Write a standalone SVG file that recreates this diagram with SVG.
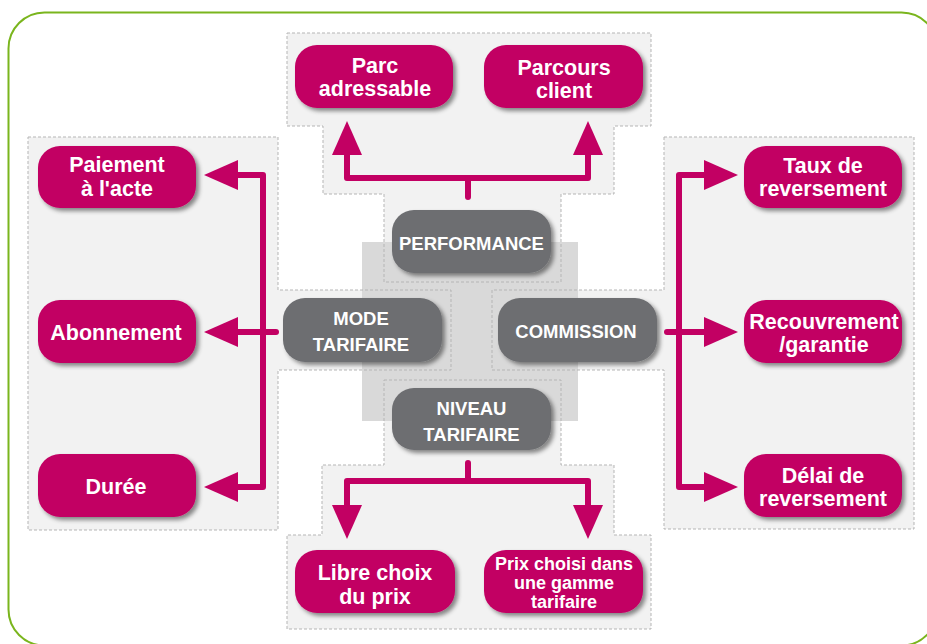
<svg xmlns="http://www.w3.org/2000/svg" width="927" height="644" viewBox="0 0 927 644">
<defs>
<style>
.region{fill:#f2f2f2;stroke:none}
.outline{fill:none;stroke:#b5b5b5;stroke-width:1;stroke-dasharray:3 2}
.pink rect{fill:#c20063;filter:url(#sh)}
.grey rect{fill:#6d6e71;filter:url(#sh)}
.pink text{font-family:"Liberation Sans",Arial,sans-serif;font-weight:bold;font-size:21.5px;fill:#fff;text-anchor:middle}
.grey text{font-family:"Liberation Sans",Arial,sans-serif;font-weight:bold;font-size:18.5px;fill:#fff;text-anchor:middle}
.pink text.small{font-size:18px}
#connectors path{fill:none;stroke:#c20063;stroke-width:6;stroke-linejoin:round;stroke-linecap:round}
#connectors path.arr{marker-end:url(#ah)}
</style>
<filter id="sh" x="-10%" y="-15%" width="125%" height="140%">
<feDropShadow dx="3" dy="3" stdDeviation="2.2" flood-color="#000" flood-opacity="0.45"/>
</filter>
<marker id="ah" markerUnits="userSpaceOnUse" markerWidth="34" markerHeight="30" viewBox="0 0 34 30" refX="0" refY="15" orient="auto">
<path d="M0,0 L34,15 L0,30 Z" fill="#c20063"/>
</marker>
</defs>
<rect x="8.5" y="12.5" width="929" height="633" rx="36" fill="#fff" stroke="#7ab51d" stroke-width="2"/>
<g id="regions">
<path class="region" d="M287,33 H651 V126 H614 V194 H561 V282 H384 V194 H323 V126 H287 Z"/>
<path class="region" d="M28,137 H278 V290 H451 V370 H278 V530 H28 Z"/>
<path class="region" d="M664,137 H914 V529 H664 V370 H492 V290 H664 Z"/>
<path class="region" d="M384,380 H561 V465 H614 V535 H651 V629 H287 V535 H322 V465 H384 Z"/>
<rect x="362" y="242" width="216" height="179" fill="#d9d9d9"/>
<path class="outline" d="M287,33 H651 V126 H614 V194 H561 V282 H384 V194 H323 V126 H287 Z"/>
<path class="outline" d="M28,137 H278 V290 H451 V370 H278 V530 H28 Z"/>
<path class="outline" d="M664,137 H914 V529 H664 V370 H492 V290 H664 Z"/>
<path class="outline" d="M384,380 H561 V465 H614 V535 H651 V629 H287 V535 H322 V465 H384 Z"/>
</g>
<g id="connectors">
<path d="M468,197 V178"/>
<path class="arr" d="M468,178 H347 V155"/>
<path class="arr" d="M468,178 H588 V155"/>
<path class="arr" d="M263,332 V175 H238"/>
<path class="arr" d="M263,332 V487 H238"/>
<path class="arr" d="M276,332 H238"/>
<path class="arr" d="M679,332 V175 H704"/>
<path class="arr" d="M679,332 V487 H704"/>
<path class="arr" d="M667,332 H704"/>
<path d="M468,463 V481"/>
<path class="arr" d="M468,481 H347 V505"/>
<path class="arr" d="M468,481 H588 V505"/>
</g>
<g id="performance" class="grey"><rect x="392" y="210" width="159" height="63" rx="22"/><text x="471.5" y="250">PERFORMANCE</text></g>
<g id="mode-tarifaire" class="grey"><rect x="283" y="298" width="159" height="64" rx="22"/><text x="361" y="325">MODE</text><text x="361" y="351">TARIFAIRE</text></g>
<g id="commission" class="grey"><rect x="498" y="298" width="159" height="64" rx="22"/><text x="576" y="338">COMMISSION</text></g>
<g id="niveau-tarifaire" class="grey"><rect x="392" y="388" width="159" height="62" rx="22"/><text x="471.5" y="415">NIVEAU</text><text x="471.5" y="441">TARIFAIRE</text></g>
<g id="parc-adressable" class="pink"><rect x="295" y="45" width="158" height="63" rx="22"/><text x="375" y="73">Parc</text><text x="375" y="96">adressable</text></g>
<g id="parcours-client" class="pink"><rect x="484" y="45" width="159" height="63" rx="22"/><text x="564" y="75">Parcours</text><text x="564" y="98">client</text></g>
<g id="paiement-acte" class="pink"><rect x="38" y="146" width="158" height="62" rx="22"/><text x="117" y="172">Paiement</text><text x="117" y="196">à l'acte</text></g>
<g id="abonnement" class="pink"><rect x="38" y="300" width="158" height="63" rx="22"/><text x="116" y="340">Abonnement</text></g>
<g id="duree" class="pink"><rect x="38" y="454" width="158" height="63" rx="22"/><text x="116" y="494">Durée</text></g>
<g id="taux-reversement" class="pink"><rect x="744" y="146" width="158" height="62" rx="22"/><text x="823" y="173">Taux de</text><text x="823" y="196">reversement</text></g>
<g id="recouvrement" class="pink"><rect x="744" y="300" width="158" height="63" rx="22"/><text x="824" y="329">Recouvrement</text><text x="824" y="352">/garantie</text></g>
<g id="delai-reversement" class="pink"><rect x="744" y="454" width="158" height="63" rx="22"/><text x="823" y="483">Délai de</text><text x="823" y="506">reversement</text></g>
<g id="libre-choix" class="pink"><rect x="295" y="550" width="160" height="63" rx="22"/><text x="375" y="580">Libre choix</text><text x="375" y="604">du prix</text></g>
<g id="prix-choisi" class="pink"><rect x="484" y="550" width="159" height="63" rx="22"/><text class="small" x="564" y="570">Prix choisi dans</text><text class="small" x="564" y="589">une gamme</text><text class="small" x="564" y="608">tarifaire</text></g>
</svg>
